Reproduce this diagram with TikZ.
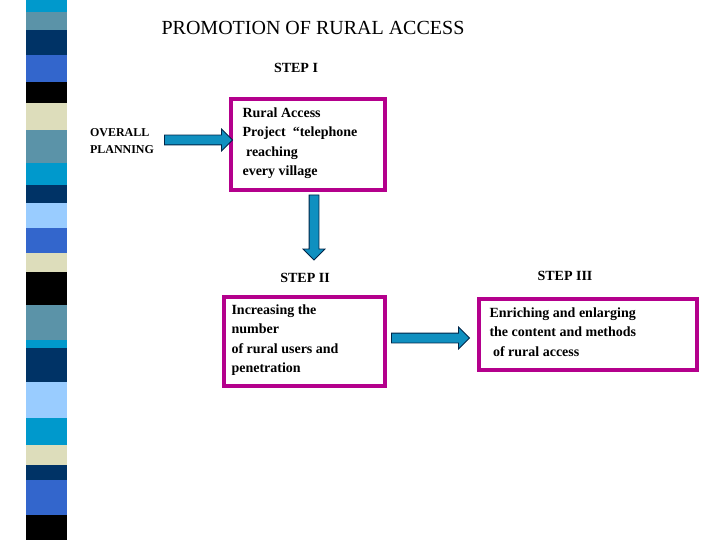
\documentclass[tikz,border=0pt]{standalone}
\usepackage{fontspec}
\setmainfont{Liberation Serif}
\usetikzlibrary{shapes.arrows}
\definecolor{cy}{HTML}{0099CC}\definecolor{gb}{HTML}{5B93A8}\definecolor{nv}{HTML}{003366}
\definecolor{rb}{HTML}{3366CC}\definecolor{bg}{HTML}{DDDDBB}\definecolor{lb}{HTML}{99CCFF}
\definecolor{mg}{RGB}{180,0,140}\definecolor{ar}{HTML}{1090C0}
\begin{document}
\begin{tikzpicture}[x=1pt,y=-1pt,
 box/.style={draw=mg,line width=3.5pt,inner sep=0pt},
 txt/.style={font=\bfseries\fontsize{14}{19.5}\selectfont,align=left,anchor=north west},
 arr/.style={single arrow,draw=nv!70!black,fill=ar,line width=0.8pt,inner sep=4.5pt,
   single arrow head extend=6pt,minimum height=#1}]
\useasboundingbox (0,0) rectangle (720,540);
\foreach \a/\b/\c in {0/12/cy,12/30/gb,30/55/nv,55/82/rb,82/103/black,103/130/bg,130/163/gb,163/185/cy,185/203/nv,203/228/lb,228/253/rb,253/272/bg,272/305/black,305/340/gb,340/348/cy,348/382/nv,382/418/lb,418/445/cy,445/465/bg,465/480/nv,480/515/rb,515/540/black}
  \fill[\c] (26,\a) rectangle (67,\b);
\node (title) at (313,28) {\fontsize{20}{24}\selectfont PROMOTION OF RURAL ACCESS};
\node (s1) at (296,68) {\bfseries\fontsize{14}{16}\selectfont STEP I};
\node (s2) at (305,278) {\bfseries\fontsize{14}{16}\selectfont STEP II};
\node (s3) at (565,276) {\bfseries\fontsize{14}{16}\selectfont STEP III};
\node[align=left,font=\bfseries\fontsize{12}{17}\selectfont] (ov) at (122,141) {OVERALL\\ PLANNING};
\draw[box] (231,99) rectangle (385,190);
\node[txt] (b1) at (239,104) {Rural Access\\Project \ “telephone\\ \ reaching\\every village};
\draw[box] (224,297) rectangle (385,386);
\node[txt] (b2) at (228,301) {Increasing the\\number\\of rural users and\\penetration};
\draw[box] (479,299) rectangle (697,370);
\node[txt] (b3) at (486,304) {Enriching and enlarging\\the content and methods\\ \ of rural access};
\node[arr=68pt] (a1) at (196,140) {};
\node[arr=65pt,rotate=-90] (a2) at (314,225) {};
\node[arr=78pt] (a3) at (428,338) {};
\end{tikzpicture}
\end{document}
